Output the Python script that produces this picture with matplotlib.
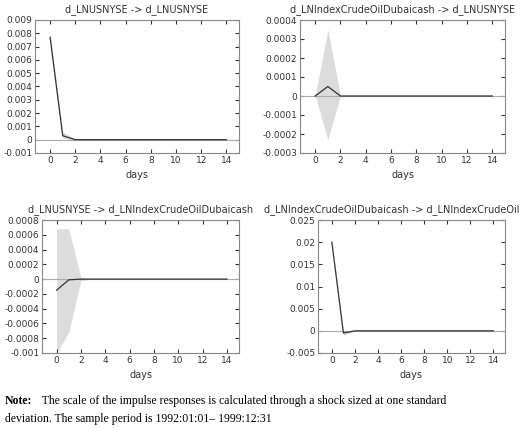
import numpy as np
import matplotlib
matplotlib.use("Agg")
import matplotlib.pyplot as plt

days = np.arange(15)

titles = ["d_LNUSNYSE -> d_LNUSNYSE",
          "d_LNIndexCrudeOilDubaicash -> d_LNUSNYSE",
          "d_LNUSNYSE -> d_LNIndexCrudeOilDubaicash",
          "d_LNIndexCrudeOilDubaicash -> d_LNIndexCrudeOilDubaica"]

resp = [[0.0077, 0.0003, 0.0] + [0.0] * 12,
        [0.0, 0.00005, 0.0] + [0.0] * 12,
        [-0.00015, -0.00001, 0.0] + [0.0] * 12,
        [0.02, -0.0005, 0.0] + [0.0] * 12]
upper = [[0.0080, 0.0006, 0.00005] + [0.0] * 12,
         [0.0, 0.00035, 0.0] + [0.0] * 12,
         [0.00068, 0.00068, 0.00002] + [0.0] * 12,
         [0.0205, 0.0, 0.00005] + [0.0] * 12]
lower = [[0.0074, 0.0001, -0.00003] + [0.0] * 12,
         [0.0, -0.00023, 0.0] + [0.0] * 12,
         [-0.001, -0.00072, -0.00002] + [0.0] * 12,
         [0.0195, -0.001, -0.00005] + [0.0] * 12]

ylims = [(-0.001, 0.009), (-0.0003, 0.0004), (-0.001, 0.0008), (-0.005, 0.025)]
yticks = [np.arange(-0.001, 0.0091, 0.001), np.arange(-0.0003, 0.00041, 0.0001),
          np.arange(-0.001, 0.00081, 0.0002), np.arange(-0.005, 0.0251, 0.005)]

# axes positions in pixels: left, top, width, height
boxes = [(35, 20, 204, 133), (300, 20, 205, 133),
         (42, 220, 197, 133), (318, 220, 187, 133)]

W, H = 520, 428
fig = plt.figure(figsize=(W / 100, H / 100), dpi=100)
for i in range(4):
    l, t, w, h = boxes[i]
    ax = fig.add_axes([l / W, 1 - (t + h) / H, w / W, h / H])
    ax.fill_between(days, lower[i], upper[i], color="#dcdcdc", lw=0)
    ax.axhline(0, color="#aaaaaa", lw=0.8)
    ax.plot(days, resp[i], color="#333333", lw=0.9)
    ax.set_xlim(-1.2, 15)
    ax.set_ylim(*ylims[i])
    ax.set_xticks(range(0, 15, 2))
    ax.set_yticks(yticks[i])
    ax.set_yticklabels(["0" if abs(v) < 1e-12 else ("%g" % round(v, 6)) for v in yticks[i]])
    ax.tick_params(direction="in", top=True, right=True, labelsize=6.5, length=3,
                   pad=2, colors="#333333")
    for s in ax.spines.values():
        s.set_color("#888888")
    ax.set_title(titles[i], fontsize=7, color="#333333")
    ax.set_xlabel("days", fontsize=7, color="#333333")

fig.text(0.01, 0.055, "Note:", fontsize=8.5, fontweight="bold", family="Liberation Serif")
fig.text(0.075, 0.055, " The scale of the impulse responses is calculated through a shock sized at one standard",
         fontsize=8.5, family="Liberation Serif")
fig.text(0.01, 0.015, "deviation. The sample period is 1992:01:01\u2013 1999:12:31",
         fontsize=8.5, family="Liberation Serif")
fig.savefig("out.png", dpi=100)
